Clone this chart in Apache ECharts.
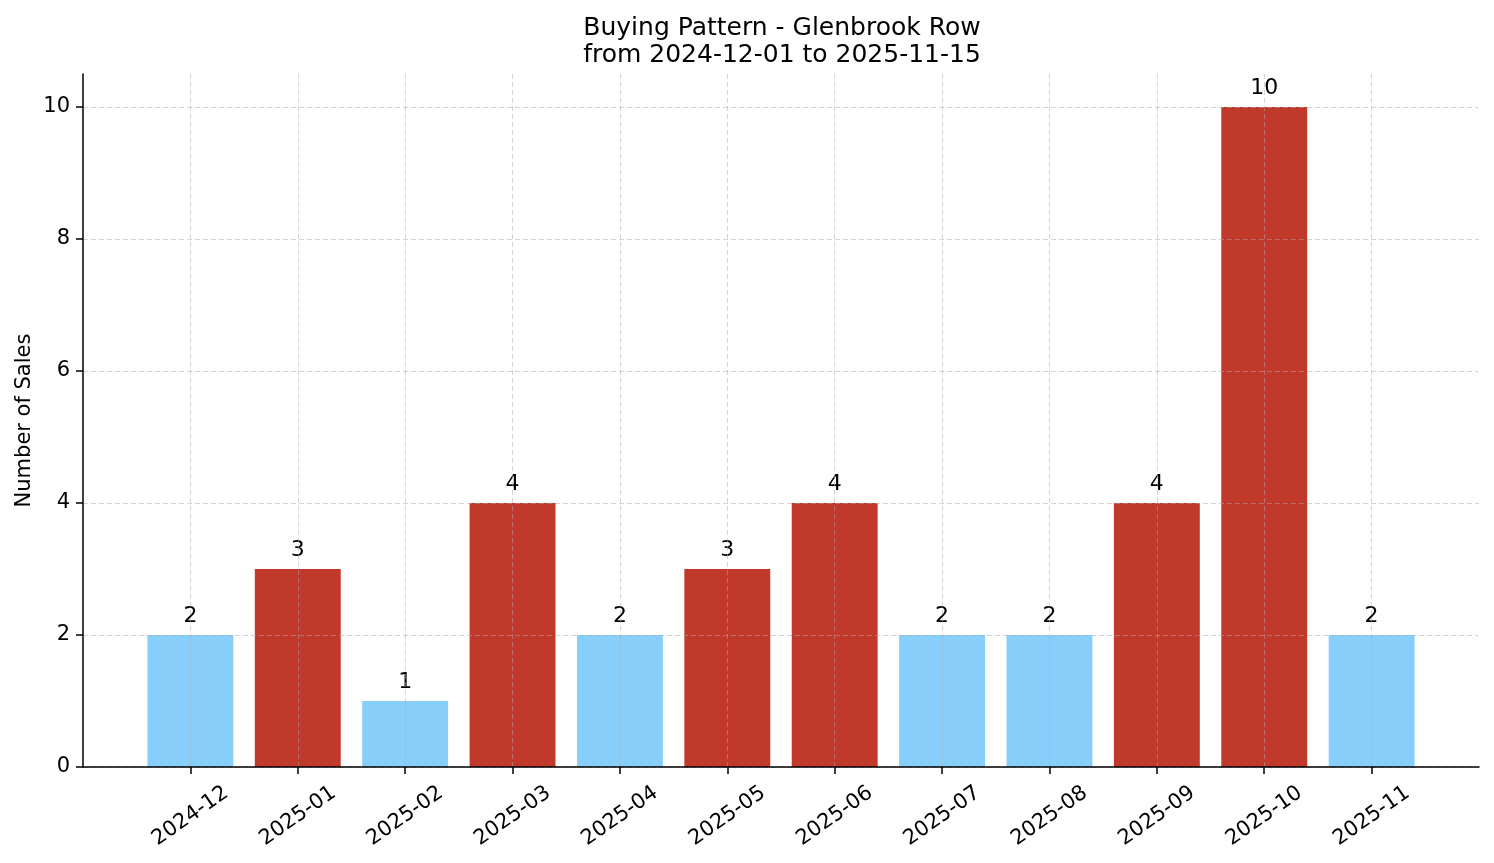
<!DOCTYPE html>
<html>
<head>
<meta charset="utf-8">
<script src="https://cdn.jsdelivr.net/npm/echarts@6/dist/echarts.min.js"></script>
<style>html,body{margin:0;padding:0;background:#fff;}#c{width:1494px;height:863px;}</style>
</head>
<body>
<div id="c"></div>
<script>
const months = ['2024-12','2025-01','2025-02','2025-03','2025-04','2025-05','2025-06','2025-07','2025-08','2025-09','2025-10','2025-11'];
const sales = [2, 3, 1, 4, 2, 3, 4, 2, 2, 4, 10, 2];
const yTicks = [0, 2, 4, 6, 8, 10];
const titleLines = ['Buying Pattern - Glenbrook Row', 'from 2024-12-01 to 2025-11-15'];

const BLUE = '#87CEFA', RED = '#C0392B';
const FONT = 'DejaVu Sans';
// pad the category axis with one empty slot on each side (matches matplotlib margins)
const cats = [''].concat(months, ['']);
const data = [null].concat(sales, [null]);
const inner = (i) => i > 0 && i < cats.length - 1;

const chart = echarts.init(document.getElementById('c'), null, {renderer: 'canvas'});
chart.setOption({
  animation: false,
  backgroundColor: '#fff',
  textStyle: {fontFamily: FONT},
  title: {
    text: titleLines.join('\n'),
    left: 777, top: 10, textAlign: 'center',
    textStyle: {fontFamily: FONT, fontSize: 25, fontWeight: 'normal', color: '#000', lineHeight: 27}
  },
  grid: {left: 83, right: 15, top: 74, bottom: 96, containLabel: false},
  xAxis: {
    type: 'category', data: cats, boundaryGap: false, z: 5,
    axisLine: {lineStyle: {color: '#000', width: 1.5}},
    axisTick: {show: true, length: 7, interval: (i) => inner(i), lineStyle: {color: '#000', width: 1.5}},
    axisLabel: {interval: 0, rotate: 35, align: 'center', verticalAlign: 'middle', margin: 49,
      fontFamily: FONT, fontSize: 21, color: '#000'},
    splitLine: {show: true, interval: (i) => inner(i), lineStyle: {color: 'rgba(170,170,170,0.5)', width: 1, type: [5, 3]}}
  },
  yAxis: {
    type: 'value', min: 0, max: 10.5, interval: 2, z: 5,
    name: 'Number of Sales', nameLocation: 'middle', nameGap: 48, nameRotate: 90, nameMoveOverlap: false,
    nameTextStyle: {fontFamily: FONT, fontSize: 21, color: '#000'},
    axisLine: {show: true, lineStyle: {color: '#000', width: 1.5}},
    axisTick: {show: true, length: 7, customValues: yTicks, lineStyle: {color: '#000', width: 1.5}},
    axisLabel: {customValues: yTicks, margin: 13, fontFamily: FONT, fontSize: 21, color: '#000'},
    splitLine: {show: true, lineStyle: {color: 'rgba(170,170,170,0.5)', width: 1, type: [5, 3]}}
  },
  series: [{
    type: 'bar', data: data, barWidth: '80%', z: 2,
    itemStyle: {color: (p) => (p.value >= 3 ? RED : BLUE)},
    label: {show: true, position: 'top', distance: 8, fontFamily: FONT, fontSize: 22, color: '#000'}
  }]
});
</script>
</body>
</html>
